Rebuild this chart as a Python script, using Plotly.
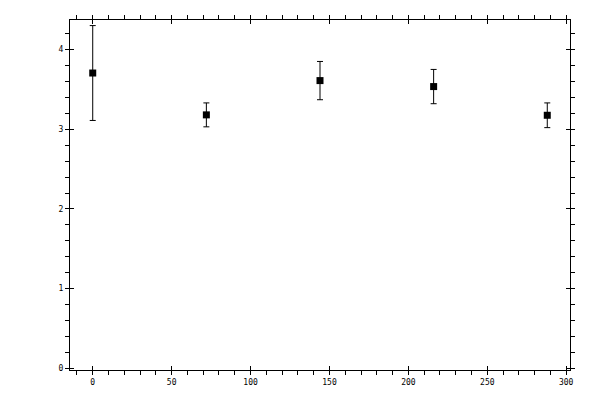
import plotly.graph_objects as go

# data
x_vals = [0, 72, 144, 216, 288]
y_vals = [3.705, 3.18, 3.61, 3.535, 3.175]
y_err = [0.595, 0.15, 0.24, 0.215, 0.155]

x_ticks = [0, 50, 100, 150, 200, 250, 300]
y_ticks = [0, 1, 2, 3, 4]

font = dict(family="DejaVu Sans Mono", size=8, color="black")

fig = go.Figure()
fig.add_trace(go.Scatter(
    x=x_vals, y=y_vals,
    mode="markers",
    marker=dict(symbol="square", size=7, color="black"),
    error_y=dict(type="data", array=y_err, color="black", thickness=1, width=3),
    showlegend=False,
))
# empty trace so the overlay axes (inner half of major ticks) get drawn
fig.add_trace(go.Scatter(x=[], y=[], xaxis="x2", yaxis="y2", showlegend=False))

axis_common = dict(
    showgrid=False, zeroline=False, showline=True, linecolor="black",
    linewidth=1, mirror="ticks", ticks="outside", ticklen=4,
    tickcolor="black", tickwidth=1, tickfont=font,
)

# page body has an 8px margin, so shift the plot area back by that much
fig.update_layout(
    width=600, height=400,
    margin=dict(l=62, r=38, t=7, b=38),
    paper_bgcolor="white", plot_bgcolor="white",
    xaxis=dict(
        range=[-14.4, 302.4], tickvals=x_ticks,
        minor=dict(dtick=10, ticks="outside", ticklen=4, tickcolor="black"),
        **axis_common,
    ),
    yaxis=dict(
        range=[-0.02, 4.37], tickvals=y_ticks,
        minor=dict(dtick=0.2, ticks="outside", ticklen=4, tickcolor="black"),
        **axis_common,
    ),
    xaxis2=dict(
        overlaying="x", range=[-14.4, 302.4], tickvals=x_ticks,
        ticks="inside", ticklen=4, tickcolor="black", mirror="ticks",
        showticklabels=False, showgrid=False, zeroline=False, showline=False,
    ),
    yaxis2=dict(
        overlaying="y", range=[-0.02, 4.37], tickvals=y_ticks,
        ticks="inside", ticklen=4, tickcolor="black", mirror="ticks",
        showticklabels=False, showgrid=False, zeroline=False, showline=False,
    ),
)

fig.write_html("out.html")
